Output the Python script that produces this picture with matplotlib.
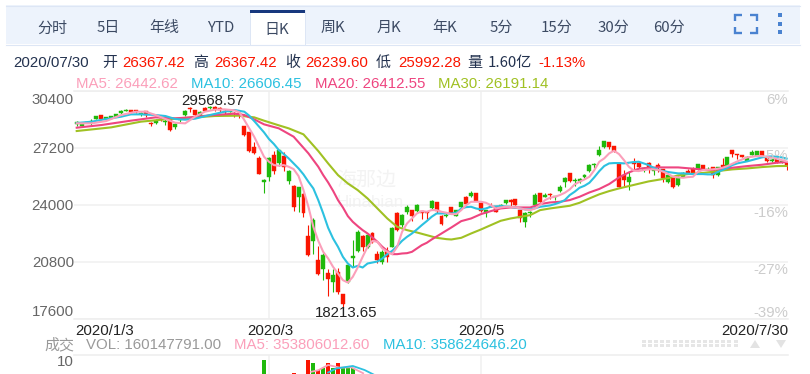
import matplotlib
matplotlib.use("Agg")
import matplotlib.pyplot as plt
from matplotlib.patches import Rectangle, Polygon, Circle

# ---------- data ----------
opens = [28527,28440,28600,28590,28845,29030,28850,28880,28960,29145,29295,29330,29330,29090,29275,28580,28580,28810,28640,28830,
         28360,28750,29050,29465,29330,29015,29465,29425,29500,29465,29275,29240,29165,29180,28435,28115,27255,26615,25290,25590,
         26805,26340,26750,25360,25061,24462,24612,22252,21990,20903,20379,20210,19686,20247,19030,19686,21000,21409,22270,21615,
         22400,21240,20810,21409,21652,23563,22851,23581,23713,23675,23656,23619,23806,24143,23375,23395,23860,23394,23862,24462,
         24500,24650,24125,23525,23937,23937,23900,24087,24275,24330,23713,23057,23525,23994,24650,24462,24630,24425,24780,25267,
         25773,25342,25361,25586,25923,26240,26805,27234,27534,27309,26335,25680,25305,26391,26373,25960,26335,25923,26241,25998,
         25305,25548,25117,25586,25923,25998,25998,26241,25960,26110,25680,26241,26110,27084,26840,26803,26485,26803,26766,27028,
         26616,26466,26560,26391,26367.42]
closes = [28677,28560,28640,28720,28975,28825,28920,28975,29090,29295,29350,29200,29220,29145,29050,28525,28735,28770,28715,28210,
          28530,28790,29275,29405,29050,29240,29275,29520,29370,29350,29240,29315,29125,29050,27925,27030,26900,25755,25400,26650,
          25925,27085,26150,25923,23900,24986,23525,21184,23150,20117,21184,19835,20060,19124,18468,20622,21128,22495,21652,22308,
          21896,20940,21371,21053,22720,22589,23432,23900,23375,23994,23563,23525,24218,23675,22926,23432,23525,23713,24143,24031,
          24686,24237,23656,23713,23900,23619,23994,24275,24180,23994,23244,23525,23619,24555,24181,24555,24555,24500,24986,25530,
          25361,25380,25455,25680,26241,26300,27085,27590,27272,27028,25024,25399,25586,26279,26110,26054,26000,25998,26110,25492,
          25680,24986,25586,25811,25811,25811,26279,25960,26000,25680,26110,26000,26672,26860,26803,26710,26710,26990,27028,26710,
          26485,26560,26391,26485,26239.60]
highs = [28714,28590,28660,28830,28990,29050,28950,29010,29110,29340,29370,29350,29340,29200,29290,28640,28830,28860,28830,28865,
         28590,28860,29310,29480,29350,29260,29480,29535,29568.57,29500,29315,29330,29240,29220,28450,28115,27520,26730,25450,26700,
         27050,27110,26990,25990,25100,25020,24650,22870,23250,21708,21278,20435,20435,20490,19030,20680,22027,22589,22308,22340,
         22458,21428,21465,21652,22776,23620,23488,23993,23713,24031,23675,23640,24256,24180,23432,23525,23880,23730,24180,24500,
         24780,24680,24150,23730,24090,23960,24050,24300,24312,24350,23730,23600,23656,24686,24680,24650,24686,24530,25117,25586,
         25780,25492,25530,25735,26298,26370,27330,27610,27550,27330,26370,25960,25867,26616,26400,26110,26430,26040,26335,26020,
         25773,25570,25610,25830,26000,26110,26316,26260,26130,26130,26150,26616,26700,27100,26860,26820,26730,27100,27050,27050,
         26640,26580,26580,26510,26367.42]
lows = [28452,28420,28580,28490,28840,28770,28830,28850,28950,29130,29280,29190,29190,28975,28920,28450,28545,28710,28490,28150,
        28290,28680,29015,29200,29015,29000,29260,29400,29295,29240,29125,29200,28960,28900,27870,26990,26840,25735,24680,25320,
        25750,26200,25920,25170,23675,23620,23300,21128,21240,20060,19817,18880,19124,19030,18213.65,19630,20528,21371,21409,21580,
        21877,20753,20680,20810,21615,22551,22739,23488,23113,23619,23207,23207,23770,23525,22870,23300,23500,23375,23840,23990,
        24460,24200,23580,23340,23860,23600,23806,24050,23860,23975,23057,22739,23338,23956,24150,24425,24312,24275,24743,25024,
        25305,25061,25211,25492,25867,26050,26770,27220,27160,26950,24990,25061,24837,25998,26050,25867,25773,25680,25867,25305,
        25211,24950,25080,25560,25790,25790,25980,25940,25940,25492,25640,25980,26090,26672,26560,26690,26470,26780,26750,26690,
        26390,26420,26370,26360,25992.28]

ma5_idx = [0,3,6,9,12,14,16,18,20,22,24,26,28,30,32,33,34,35,36,37] + list(range(38, 145))
ma5_val = [28583,28583,28714,29051,29238,29238,29050,28826,28620,28583,28957,29238,29351,29370,29313,29200,28770,28302,27834,27272,
           26709,26428,26241,26204,26241,26148,26016,25623,24836,23900,22776,21990,21371,20997,20528,20154,19779,19648,19966,20491,
           21090,21652,21990,21934,21559,21371,21240,21652,22495,22963,23244,23525,23656,23619,23713,23713,23619,23563,
           23488,23488,23713,23994,24181,24181,24181,24125,23994,23806,23862,23900,23900,23862,23806,23750,23713,23806,23994,24275,
           24406,24462,24556,24686,24874,25155,25305,25436,25586,25960,26429,26616,26897,27047,26859,26522,26148,25923,25904,25960,
           26000,26000,25960,25867,25736,25586,25548,25530,25567,25586,25867,25960,25979,26000,26035,26092,26185,26316,26447,26560,
           26672,26710,26747,26747,26710,26653,26597,26522,26442.62]

ma10_idx = [0,3,6,9,11,13,16,18,20,22,24,27,30,32,34,35,36,37,38,39,40,41,42] + list(range(43, 145))
ma10_val = [28602,28677,28826,28957,29089,29089,29051,28995,28826,28789,28845,29051,29238,29332,29238,29014,28714,28396,28077,27703,27423,27084,26861,
            26616,26335,26054,25717,25305,24930,24274,23525,22720,22120,21652,21090,20716,20491,20585,20491,20716,20772,20828,20997,21240,21427,21690,21990,
            22214,22401,22626,22870,23095,23338,23525,23525,23525,23525,23563,23806,23881,23900,23806,23750,23806,23900,23919,23937,23919,23900,23844,23806,
            23750,23750,23825,23900,23937,23975,24050,24143,24275,24556,24743,24968,25080,25250,25560,25900,26187,26336,26355,26355,26336,26374,26411,26430,
            26336,26243,26093,25962,25905,25850,25812,25775,25775,25756,25737,25737,25737,25718,25718,25850,25962,26093,26243,26336,26393,26449,26524,26599,
            26674,26711,26730,26711,26674,26606.45]

ma20_idx = [0,5,11,16,20,23,27,32,34,36,38,41,44,47,48,49,50,51,52,53,54,55,56,57,58,59,60,61,62,63,64,65,66,67,68,69,70,71,72,74,76,78,80,82,84,86,88,90,92,94,96,98,100,102,104,106,108,110,112,114,116,118,122,126,128,130,133,136,139,142,144]
ma20_val = [28340,28490,28734,28921,28865,28921,29033,29127,29052,28809,28528,28303,27835,26900,26522,26148,25679,25267,24799,24275,23862,23376,23057,22814,22589,22401,22177,21934,21652,21427,21240,21240,21278,21296,21371,21559,21746,21877,22064,22401,22739,23095,23244,23488,23656,23806,23862,23862,23862,24050,24143,24181,24275,24462,24705,24900,25174,25548,25829,26035,26092,26110,26110,26017,25960,26000,26092,26185,26260,26372,26412.55]

ma30_idx = [0,7,13,18,23,28,33,36,38,41,43,46,49,51,53,55,57,59,61,63,65,67,69,71,73,75,76,78,80,82,84,86,88,90,92,94,96,98,100,102,104,106,108,110,112,114,116,118,120,122,124,126,128,130,133,136,139,142,144]
ma30_val = [28153,28359,28678,28809,28902,28996,29015,28921,28734,28472,28303,27966,27030,26335,25679,25211,24836,24368,23806,23244,22776,22589,22458,22308,22158,22083,22064,22158,22401,22626,22870,23113,23244,23338,23432,23713,23806,23881,23956,24125,24368,24600,24780,24930,25061,25193,25324,25417,25511,25661,25736,25773,25829,25904,26000,26054,26129,26185,26191.14]

vol_idx = [38,44,47,48,49,50,51,52,53,54,55,56]
vol_val = [10.3,8.5,10.3,9.9,8.9,9.2,9.9,9.2,9.9,9.3,9.5,9.2]
vol_col = ['g','r','r','g','r','g','r','g','r','g','g','g']
vma5_idx = [47.6,49,51,53.4,55.7,58.1]
vma5_val = [8.7,8.9,9.6,9.24,9.3,8.5]
vma10_idx = [51,52.7,56,58.4,60.4]
vma10_val = [8.6,9.15,9.47,8.93,8.27]

price_ticks = [30400,27200,24000,20800,17600]
price_labels = ['30400','27200','24000','20800','17600']
pct_labels = ['6%','-5%','-16%','-27%','-39%']
date_idx = [39,82]
tabs = ['分时','5日','年线','YTD','日K','周K','月K','年K','5分','15分','30分','60分']

RED, GREEN = '#fa1500', '#1fb90c'
C5, C10, C20, C30 = '#fb9fba', '#2cc1e0', '#ee4580', '#a0c123'
GRID = '#f0f0f0'
SANS = 'Liberation Sans'
CJK = ['Noto Sans CJK SC', 'Liberation Sans']

W, H = 810, 374
fig = plt.figure(figsize=(W/100, H/100), dpi=100, facecolor='white')

def axes_px(l, t, r, b):
    return fig.add_axes([l/W, 1-b/H, (r-l)/W, (b-t)/H])

# x-limits such that pixel = 76.7 + 4.93 * index
xlim = ((74-76.7)/4.93, (788-76.7)/4.93)

# ---------- overlay behind the data for chrome ----------
bg = axes_px(0, 0, W, H)
bg.set_xlim(0, W); bg.set_ylim(H, 0); bg.axis('off')

def T(x, y, s, color='#333', ha='left', size=15, fam=SANS, ax=None, dy=1.2, **k):
    (ax or bg).text(x, y + dy, s, color=color, ha=ha, va='center', fontsize=size*0.72, family=fam, **k)

bg.add_patch(Rectangle((6, 5), 794, 39, fc='#edf3fc', ec='none'))
bg.plot([6, 800], [5.5, 5.5], color='#dde6f5', lw=0.8)
bg.plot([6, 800], [44.5, 44.5], color='#dde6f5', lw=0.8)
bg.add_patch(Rectangle((250, 10), 55, 35, fc='white', ec='#dde6f5', lw=0.7))
bg.add_patch(Rectangle((250, 10), 55, 3, fc='#17387e', ec='none'))
for k, s in enumerate(tabs):
    T(52 + 56.1*k, 29 if s == '日K' else 27, s, color='#3c4a63', ha='center', fam=CJK)

# full-screen icon and menu dots
ICON = '#4a82d0'
for xs, ys in [([735, 735, 742], [21, 15, 15]), ([750, 757, 757], [15, 15, 21]),
               ([735, 735, 742], [27, 33, 33]), ([750, 757, 757], [33, 33, 27])]:
    bg.plot(xs, ys, color=ICON, lw=1.7, solid_capstyle='butt', solid_joinstyle='miter')
for yy in (15, 24, 32):
    bg.add_patch(Rectangle((778, yy-2), 4, 4, fc=ICON, ec='none'))

# header row
NAVY = '#23324f'
hdr = [(13,'2020/07/30',NAVY),(102,'开',NAVY),(122,'26367.42',RED),(193,'高',NAVY),(214,'26367.42',RED),
       (285,'收',NAVY),(305,'26239.60',RED),(376,'低',NAVY),(398,'25992.28',RED),(467,'量',NAVY),
       (488,'1.60亿',NAVY),(538,'-1.13%',RED)]
for x, s, c in hdr:
    T(x, 62, s, color=c, fam=CJK if len(s) < 6 and not s[0].isdigit() or '亿' in s else SANS)
for x, s, c in [(76,'MA5: 26442.62',C5),(191,'MA10: 26606.45',C10),(315,'MA20: 26412.55',C20),(438,'MA30: 26191.14',C30)]:
    T(x, 83, s, color=c)

# watermark
T(366, 180, '海那边', color='#f3f3f3', ha='center', size=20, fam=CJK)
T(370, 201, 'Hinabian', color='#f3f3f3', ha='center', size=17)

# ---------- price panel ----------
ax = axes_px(74, 91, 788, 319)
ax.patch.set_alpha(0)
ax.set_xlim(*xlim)
ax.set_ylim(17600, 30400)
ax.set_yticks(price_ticks)
ax.set_xticks(date_idx)
ax.tick_params(length=0, labelleft=False, labelbottom=False)
ax.grid(True, color=GRID, lw=1.1)
ax.set_axisbelow(True)
for s in ('left', 'right'):
    ax.spines[s].set_visible(False)
for s in ('top', 'bottom'):
    ax.spines[s].set_color('#eeeeee'); ax.spines[s].set_linewidth(1.1)

for i, (o, h, l, c) in enumerate(zip(opens, highs, lows, closes)):
    col = GREEN if c >= o else RED
    ax.plot([i, i], [l, h], color=col, lw=0.8, solid_capstyle='butt', zorder=2)
    ax.add_patch(Rectangle((i-0.4, min(o, c)), 0.8, abs(c-o), fc=col, ec=col, lw=0.3, zorder=3))

for xs, ys, col, z in [(ma30_idx, ma30_val, C30, 4), (ma20_idx, ma20_val, C20, 5),
                       (ma10_idx, ma10_val, C10, 6), (ma5_idx, ma5_val, C5, 7)]:
    ax.plot(xs, ys, color=col, lw=1.5, zorder=z, solid_joinstyle='round')

# ---------- volume panel (runs below the picture edge) ----------
vx = axes_px(74, 354.5, 788, 437)
vx.patch.set_alpha(0)
vx.set_xlim(*xlim)
vx.set_ylim(0, 11)
vx.set_xticks(date_idx)
vx.set_yticks([])
vx.tick_params(length=0, labelbottom=False)
vx.grid(True, axis='x', color=GRID, lw=1.1)
vx.set_axisbelow(True)
for s in ('left', 'right', 'bottom'):
    vx.spines[s].set_visible(False)
vx.spines['top'].set_color('#eeeeee'); vx.spines['top'].set_linewidth(1.1)
vx.bar(vol_idx, vol_val, width=0.8, color=[GREEN if c == 'g' else RED for c in vol_col], zorder=2)
vx.plot(vma5_idx, vma5_val, color=C5, lw=1.3, zorder=3)
vx.plot(vma10_idx, vma10_val, color=C10, lw=1.3, zorder=4)

# ---------- foreground text ----------
fg = axes_px(0, 0, W, H)
fg.patch.set_alpha(0)
fg.set_xlim(0, W); fg.set_ylim(H, 0); fg.axis('off')

for y, s in zip([99, 147.5, 205, 261.5, 311], price_labels):
    T(74, y, s, color='#666666', ha='right', ax=fg)
for y, s in zip([99, 155, 212, 269, 312], pct_labels):
    T(788, y, s, color='#cccccc', ha='right', ax=fg)
T(75, 330, '2020/1/3', color='#222222', ax=fg)
T(270, 330, '2020/3', color='#222222', ha='center', ax=fg)
T(481.5, 330, '2020/5', color='#222222', ha='center', ax=fg)
T(788, 330, '2020/7/30', color='#222222', ha='right', ax=fg)
T(213, 100, '29568.57', color='#222222', ha='center', ax=fg)
T(346, 312, '18213.65', color='#222222', ha='center', ax=fg)

T(74, 344, '成交', color='#999999', ha='right', fam=CJK, ax=fg)
T(86, 344, 'VOL: 160147791.00', color='#999999', ax=fg)
T(234, 344, 'MA5: 353806012.60', color=C5, ax=fg)
T(383, 344, 'MA10: 358624646.20', color=C10, ax=fg)
T(74, 361, '10', color='#666666', ha='right', ax=fg)

# scroller dots and arrows
for row in (341, 345):
    for k in range(16):
        fg.add_patch(Rectangle((642 + 6.1*k, row - 1.5), 4, 3, fc='#e6e6e6', ec='none'))
fg.add_patch(Polygon([[750, 348], [760, 348], [755, 340]], fc='#e3e3e3', ec='none'))
fg.add_patch(Polygon([[776, 340], [786, 340], [781, 348]], fc='#e3e3e3', ec='none'))

fig.savefig('out.png', dpi=100, facecolor='white')
